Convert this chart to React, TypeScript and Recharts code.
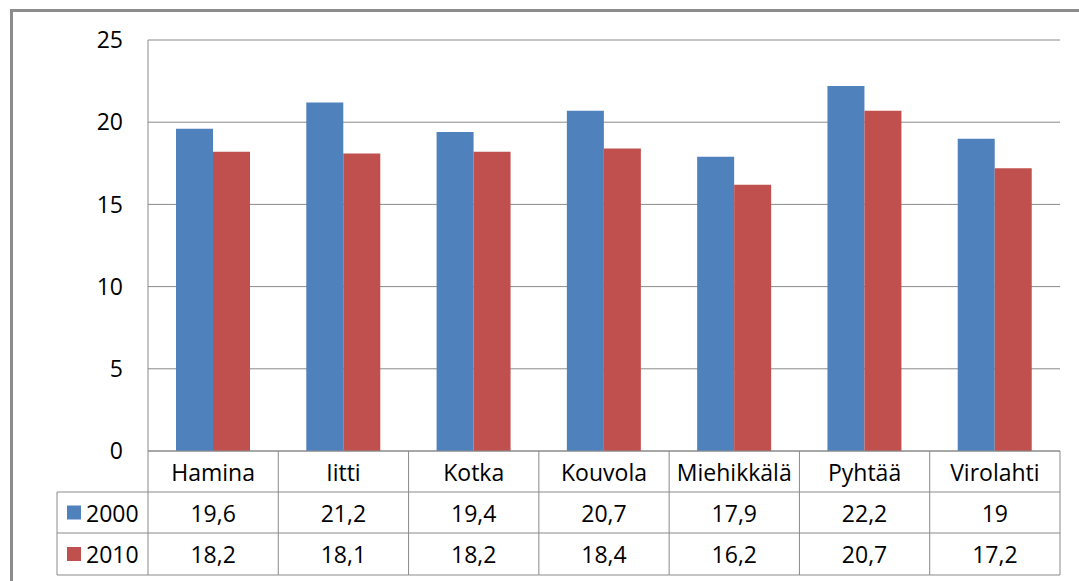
import React from 'react';
import { BarChart, Bar, XAxis, YAxis, CartesianGrid } from 'recharts';

const categories = ['Hamina', 'Iitti', 'Kotka', 'Kouvola', 'Miehikkälä', 'Pyhtää', 'Virolahti'];
const values2000 = [19.6, 21.2, 19.4, 20.7, 17.9, 22.2, 19];
const values2010 = [18.2, 18.1, 18.2, 18.4, 16.2, 20.7, 17.2];
const seriesNames = ['2000', '2010'];
const seriesColors = ['#4F81BD', '#C0504D'];
const yTicks = [0, 5, 10, 15, 20, 25];

const data = categories.map((c, i) => ({ name: c, s2000: values2000[i], s2010: values2010[i] }));
const seriesValues = [values2000, values2010];

const W = 1079;
const H = 581;
const PLOT_LEFT = 148;
const PLOT_RIGHT = 1060;
const PLOT_TOP = 40;
const PLOT_BOTTOM = 451;
const ROW_H = [41, 41, 83];
const TABLE_LEFT = 57;
const LINE = '#8a8a8a';
const FONT = '"Open Sans", "Liberation Sans", sans-serif';
const FS = 23;

const fmt = (v: number) => String(v).replace('.', ',');

const TableTick = (props: any) => {
  const { x, payload, index } = props;
  const band = (PLOT_RIGHT - PLOT_LEFT) / categories.length;
  const half = band / 2;
  const top = PLOT_BOTTOM;
  const r1 = top + 41;
  const r2 = top + 82;
  const r3 = top + 124;
  const isLast = index === categories.length - 1;
  return (
    <g>
      <line x1={x - half} y1={top} x2={x - half} y2={r3} stroke={LINE} strokeWidth={1} />
      {isLast && <line x1={x + half} y1={top} x2={x + half} y2={r3} stroke={LINE} strokeWidth={1} />}
      <line x1={x - half} y1={r1} x2={x + half} y2={r1} stroke={LINE} strokeWidth={1} />
      <line x1={x - half} y1={r2} x2={x + half} y2={r2} stroke={LINE} strokeWidth={1} />
      <line x1={x - half} y1={r3} x2={x + half} y2={r3} stroke={LINE} strokeWidth={1} />
      <text x={x} y={(top + r1) / 2} textAnchor="middle" dominantBaseline="central" fontFamily={FONT} fontSize={FS} fill="#000">
        {payload.value}
      </text>
      {seriesValues.map((vals, s) => (
        <text
          key={s}
          x={x}
          y={s === 0 ? (r1 + r2) / 2 : (r2 + r3) / 2}
          textAnchor="middle"
          dominantBaseline="central"
          fontFamily={FONT}
          fontSize={FS}
          fill="#000"
        >
          {fmt(vals[index])}
        </text>
      ))}
      {index === 0 && (
        <g>
          <line x1={TABLE_LEFT} y1={r1} x2={x - half} y2={r1} stroke={LINE} strokeWidth={1} />
          <line x1={TABLE_LEFT} y1={r2} x2={x - half} y2={r2} stroke={LINE} strokeWidth={1} />
          <line x1={TABLE_LEFT} y1={r3} x2={x - half} y2={r3} stroke={LINE} strokeWidth={1} />
          <line x1={TABLE_LEFT} y1={r1} x2={TABLE_LEFT} y2={r3} stroke={LINE} strokeWidth={1} />
          {seriesNames.map((n, s) => {
            const cy = s === 0 ? (r1 + r2) / 2 : (r2 + r3) / 2;
            return (
              <g key={n}>
                <rect x={67} y={cy - 7} width={14} height={14} fill={seriesColors[s]} />
                <text x={86} y={cy} dominantBaseline="central" fontFamily={FONT} fontSize={FS} fill="#000">
                  {n}
                </text>
              </g>
            );
          })}
        </g>
      )}
    </g>
  );
};

export default function App() {
  return (
    <div style={{ position: 'absolute', left: 0, top: 0, width: W, height: H, background: '#fff', overflow: 'hidden' }}>
      <div
        style={{
          position: 'absolute',
          left: 10,
          top: 9,
          width: 1200,
          height: 700,
          borderLeft: '3px solid #8c8c8c',
          borderTop: '3px solid #8c8c8c',
        }}
      />
      <div style={{ position: 'absolute', left: 0, top: 0 }}>
        <BarChart
          width={W}
          height={H}
          data={data}
          margin={{ top: PLOT_TOP, right: W - PLOT_RIGHT, bottom: H - PLOT_BOTTOM - 124, left: 48 }}
          barCategoryGap="21.5%"
          barGap={0}
        >
          <CartesianGrid vertical={false} stroke={LINE} strokeWidth={1} />
          <YAxis
            width={PLOT_LEFT - 48}
            domain={[0, 25]}
            ticks={yTicks}
            interval={0}
            axisLine={{ stroke: LINE, strokeWidth: 1 }}
            tickLine={false}
            tickSize={0}
            tickMargin={25}
            tick={{ fontFamily: FONT, fontSize: FS, fill: '#000' }}
          />
          <XAxis
            dataKey="name"
            height={124}
            interval={0}
            axisLine={{ stroke: LINE, strokeWidth: 1 }}
            tickLine={false}
            tickSize={0}
            tickMargin={0}
            tick={(p: any) => <TableTick {...p} />}
          />
          <Bar dataKey="s2000" name={seriesNames[0]} fill={seriesColors[0]} isAnimationActive={false} />
          <Bar dataKey="s2010" name={seriesNames[1]} fill={seriesColors[1]} isAnimationActive={false} />
        </BarChart>
      </div>
    </div>
  );
}
